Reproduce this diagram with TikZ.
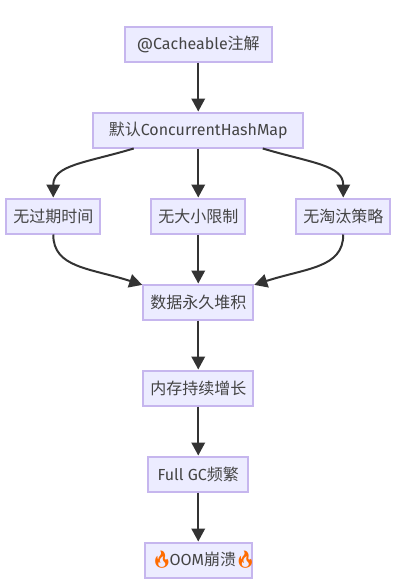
\documentclass[tikz,border=0pt]{standalone}
\usepackage{fontspec}
\usepackage{xcolor}
\usetikzlibrary{arrows.meta}
\setmainfont{Fira Sans}
\newfontfamily\cjk{Noto Sans CJK SC}
\newfontfamily\emojifont{Noto Emoji}
\definecolor{boxfill}{HTML}{ECECFF}
\definecolor{boxline}{HTML}{C6B6EE}
\definecolor{inkgray}{HTML}{333333}
\definecolor{labelgray}{HTML}{444444}
\newcommand{\fire}{{\emojifont\fontsize{17pt}{18pt}\selectfont\color{orange!85!red}\char"1F525}}
\tikzset{
  flowbox/.style={draw=boxline, fill=boxfill, line width=2pt, text=labelgray, minimum height=35pt, inner sep=0pt, font=\fontsize{16pt}{18pt}\selectfont},
  flowline/.style={draw=inkgray, line width=2pt, -{Triangle[length=13pt,width=13.5pt]}}
}
\begin{document}
\begin{tikzpicture}[x=1pt,y=-1pt]
\useasboundingbox (0,0) rectangle (406,584);
\node[flowbox, minimum width=147pt] (cacheable) at (198.25,44) {@Cacheable{\cjk 注解}};
\node[flowbox, minimum width=210pt] (default) at (198.25,130) {{\cjk 默认}ConcurrentHashMap};
\node[flowbox, minimum width=94pt] (noexpire) at (53.25,216) {\cjk 无过期时间};
\node[flowbox, minimum width=94pt] (nolimit) at (198.25,216) {\cjk 无大小限制};
\node[flowbox, minimum width=94pt] (noevict) at (343.25,216) {\cjk 无淘汰策略};
\node[flowbox, minimum width=110pt] (pileup) at (198.25,302) {\cjk 数据永久堆积};
\node[flowbox, minimum width=110pt] (memory) at (198.25,388) {\cjk 内存持续增长};
\node[flowbox, minimum width=100pt] (fullgc) at (198.25,474) {Full GC{\cjk 频繁}};
\node[flowbox, minimum width=106.5pt] (oom) at (198.25,560) {\makebox[106.5pt][l]{\hspace*{6pt}\fire\hspace{-3pt}OOM{\cjk 崩溃}\hspace{-1.5pt}\fire}};
%SPINE LINES
\draw[flowline] (cacheable) -- (default);
\draw[flowline] (default) -- (nolimit);
\draw[flowline] (nolimit) -- (pileup);
\draw[flowline] (pileup) -- (memory);
\draw[flowline] (memory) -- (fullgc);
\draw[flowline] (fullgc) -- (oom);
%default to the two side boxes
\draw[flowline] (default.196.3) .. controls (85,163) and (53.25,165) .. (noexpire.north);
\draw[flowline] (default.-16.3) .. controls (311.5,163) and (343.25,165) .. (noevict.north);
%side boxes to pileup
\draw[flowline] (noexpire.south) .. controls (53.25,268) and (90,268) .. (pileup.163);
\draw[flowline] (noevict.south) .. controls (343.25,268) and (306.5,268) .. (pileup.17);
\end{tikzpicture}
\end{document}
